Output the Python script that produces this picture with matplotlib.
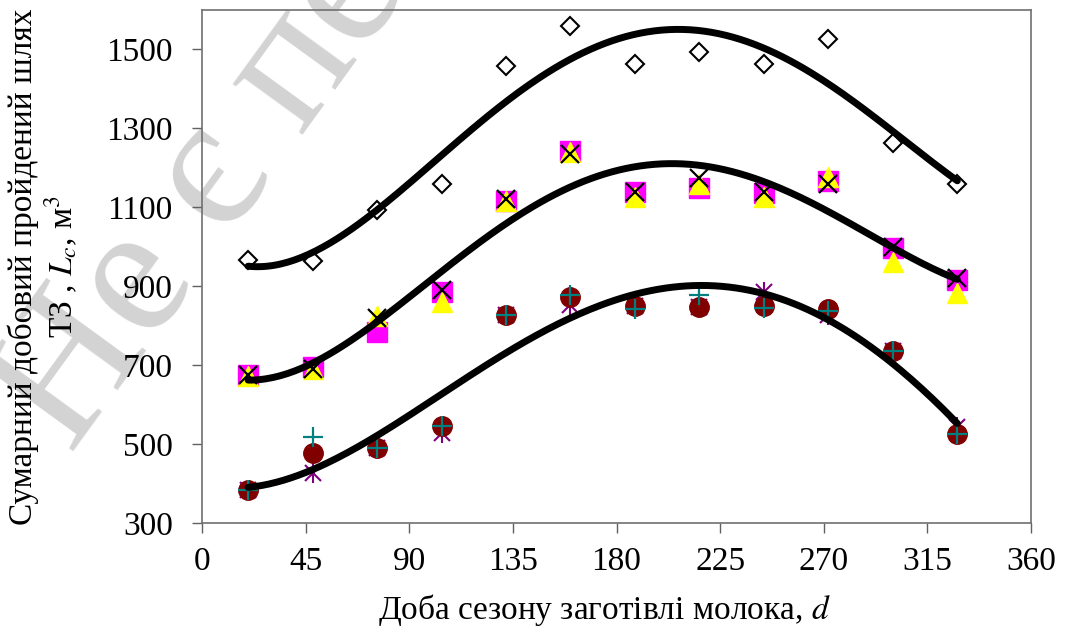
import numpy as np
import matplotlib
matplotlib.use('Agg')
import matplotlib.pyplot as plt

plt.rcParams['font.family'] = ['Liberation Serif', 'DejaVu Serif']
plt.rcParams['mathtext.fontset'] = 'stix'

# day of season
days = [20, 48, 76, 104, 132, 160, 188, 216, 244, 272, 300, 328]

# upper group (open diamonds)
top_diamond = [967, 965, 1094, 1160, 1457, 1559, 1462, 1493, 1462, 1526, 1262, 1160]

# middle group
mid_square = [675, 695, 785, 886, 1115, 1242, 1140, 1150, 1137, 1166, 998, 917]
mid_triangle = [672, 690, 825, 861, 1115, 1240, 1127, 1158, 1127, 1178, 962, 884]
mid_cross = [675, 690, 820, 891, 1120, 1235, 1140, 1175, 1140, 1158, 1000, 922]

# lower group
low_circle = [384, 478, 490, 546, 828, 873, 851, 848, 851, 843, 737, 526]
low_plus = [384, 518, 490, 546, 828, 879, 843, 879, 846, 838, 737, 526]
low_star = [384, 427, 490, 528, 828, 853, 851, 848, 886, 828, 737, 544]

xticks = [0, 45, 90, 135, 180, 225, 270, 315, 360]
yticks = [300, 500, 700, 900, 1100, 1300, 1500]

fig = plt.figure(figsize=(10.65, 6.3), dpi=100)
ax = fig.add_axes([0.1897, 0.1698, 0.7784, 0.8143])
ax.set_zorder(1)

# watermark (behind everything)
fig.text(0.066, 0.278, 'Не є пе', fontsize=135, color='#d3d3d3', rotation=54,
         ha='left', va='baseline', rotation_mode='anchor', zorder=-1)

ax.patch.set_alpha(0)

ax.plot(days, top_diamond, 'D', ms=9.5, mfc='white', mec='black', mew=1.5, ls='none')

ax.plot(days, mid_square, 's', ms=14, color='#ff00ff', ls='none')
ax.plot(days, mid_triangle, '^', ms=15, color='#ffff00', ls='none')
ax.plot(days, mid_cross, 'x', ms=13, color='black', mew=1.6, ls='none')

ax.plot(days, low_star, 'x', ms=12, color='#800080', mew=1.5, ls='none')
ax.plot(days, low_star, '|', ms=14, color='#800080', mew=1.5, ls='none')
ax.plot(days, low_circle, 'o', ms=14, color='#800000', ls='none')
ax.plot(days, low_plus, '+', ms=14, color='#008080', mew=1.6, ls='none')

# 4th order polynomial trend lines
xs = np.linspace(days[0], days[-1], 200)
groups = [top_diamond,
          np.mean([mid_square, mid_triangle, mid_cross], axis=0),
          np.mean([low_circle, low_plus, low_star], axis=0)]
for g in groups:
    c = np.polyfit(days, g, 4)
    ax.plot(xs, np.polyval(c, xs), color='black', lw=5, solid_capstyle='round')

ax.set_xlim(0, 360)
ax.set_ylim(300, 1600)
ax.set_xticks(xticks)
ax.set_yticks(yticks)
ax.tick_params(direction='out', length=7, width=1, color='#606060', labelsize=24)
ax.tick_params(axis='x', pad=10)
ax.tick_params(axis='y', pad=14)
for s in ax.spines.values():
    s.set_color('#707070')
    s.set_linewidth(1.2)

ax.set_xlabel('Доба сезону заготівлі молока, $d$', fontsize=24)
ax.xaxis.set_label_coords(0.485, -0.135)
ax.set_ylabel('Сумарний добовий пройдений шлях\nТЗ , $L_c$, м$^3$', fontsize=24,
              linespacing=1.15)
ax.yaxis.set_label_coords(-0.147, 0.5)

fig.savefig('out.png', dpi=100)
